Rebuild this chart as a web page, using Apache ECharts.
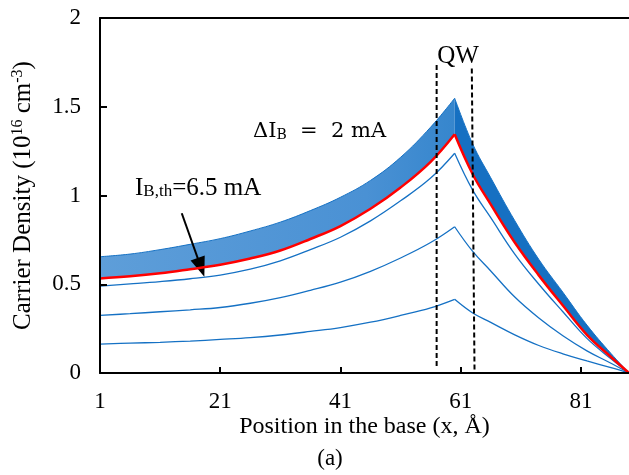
<!DOCTYPE html>
<html>
<head>
<meta charset="utf-8">
<script src="https://cdn.jsdelivr.net/npm/echarts@6/dist/echarts.min.js"></script>
<style>
  html, body { margin: 0; padding: 0; background: #fff; }
  #chart { width: 629px; height: 475px; }
</style>
</head>
<body>
<div id="chart"></div>
<script>
// Position in the base (x, Å)
const xPos = [1, 6, 11, 16, 21, 26, 31, 36, 41, 46, 51, 56, 60, 63, 66, 70, 74, 78, 82, 86, 89];
// Carrier density (1e16 cm^-3) for base currents below threshold (ΔI_B = 2 mA)
const i2mA = [0.163, 0.168, 0.173, 0.180, 0.189, 0.199, 0.214, 0.234, 0.256, 0.286, 0.324, 0.367, 0.415, 0.338, 0.285, 0.215, 0.155, 0.108, 0.068, 0.030, 0];
const i4mA = [0.325, 0.334, 0.345, 0.356, 0.369, 0.393, 0.425, 0.466, 0.512, 0.573, 0.648, 0.735, 0.824, 0.685, 0.575, 0.428, 0.310, 0.210, 0.125, 0.055, 0];
const i6mA = [0.490, 0.502, 0.515, 0.531, 0.552, 0.585, 0.632, 0.695, 0.765, 0.857, 0.970, 1.098, 1.238, 1.030, 0.875, 0.670, 0.500, 0.345, 0.195, 0.080, 0];
// Threshold current I_B,th = 6.5 mA
const iTh = [0.533, 0.545, 0.562, 0.585, 0.610, 0.645, 0.690, 0.755, 0.828, 0.925, 1.045, 1.190, 1.345, 1.120, 0.950, 0.735, 0.550, 0.380, 0.215, 0.090, 0];
// Upper edge of the dense band of above-threshold curves
const iMax = [0.655, 0.670, 0.695, 0.725, 0.757, 0.800, 0.850, 0.915, 0.990, 1.085, 1.215, 1.385, 1.548, 1.290, 1.100, 0.858, 0.640, 0.455, 0.270, 0.110, 0];
// Index of the peak (x = 60) where every curve has a kink
const peakIndex = 12;
// Quantum well boundaries (dashed)
const qwLeft = [[57.0, 0.04], [57.0, 1.735]];
const qwRight = [[63.3, 0.02], [62.85, 1.72]];
// Annotation arrow (from label to threshold curve)
const arrowFrom = [14.6, 0.90];
const arrowTo = [17.8, 0.595];
// Axis ticks
const xMin = 1, xMax = 89, xStep = 20;
const yMin = 0, yMax = 2, yStep = 0.5;

const pairs = arr => xPos.map((x, i) => [x, arr[i]]);
const rise = arr => pairs(arr).slice(0, peakIndex + 1);
const fall = arr => pairs(arr).slice(peakIndex);
// value-first rows so that stacking happens on the density dimension
const swap = rows => rows.map(r => [r[1], r[0]]);
const bandWidth = iMax.map((v, i) => v - iTh[i]);

const blue = '#1571c4';
const serif = 'Liberation Serif';

const chart = echarts.init(document.getElementById('chart'), null, { renderer: 'canvas' });

const riseFill = new echarts.graphic.LinearGradient(0, 0, 1, 0, [
  { offset: 0, color: '#5e9ed9' },
  { offset: 0.75, color: '#4a91d4' },
  { offset: 1, color: '#3686cd' }
]);
const fallFill = '#1670c2';

function curve(name, data, color, width, z, extra) {
  return Object.assign({
    name: name, type: 'line', data: data, showSymbol: false, symbol: 'none',
    smooth: 0.4,
    lineStyle: { color: color, width: width }, z: z
  }, extra || {});
}

const swapEnc = { encode: { x: 1, y: 0 } };
const series = [
  curve('band base rise', swap(rise(iTh)), blue, 0, 1, Object.assign({ stack: 'rise', lineStyle: { width: 0, opacity: 0 } }, swapEnc)),
  curve('band rise', swap(rise(bandWidth)), blue, 1, 1, Object.assign({ stack: 'rise', areaStyle: { color: riseFill, opacity: 1 } }, swapEnc)),
  curve('band base fall', swap(fall(iTh)), blue, 0, 1, Object.assign({ stack: 'fall', lineStyle: { width: 0, opacity: 0 } }, swapEnc)),
  curve('band fall', swap(fall(bandWidth)), blue, 1, 1, Object.assign({ stack: 'fall', areaStyle: { color: fallFill, opacity: 1 } }, swapEnc)),
  curve('2 mA', rise(i2mA), blue, 1.3, 3),
  curve('2 mA', fall(i2mA), blue, 1.3, 3),
  curve('4 mA', rise(i4mA), blue, 1.3, 3),
  curve('4 mA', fall(i4mA), blue, 1.3, 3),
  curve('6 mA', rise(i6mA), blue, 1.3, 3),
  curve('6 mA', fall(i6mA), blue, 1.3, 3),
  curve('I_B,th = 6.5 mA', rise(iTh), '#ff0000', 2.5, 5),
  curve('I_B,th = 6.5 mA', fall(iTh), '#ff0000', 2.5, 5),
  { name: 'QW left', type: 'line', data: qwLeft, showSymbol: false, symbol: 'none',
    lineStyle: { color: '#000', width: 2, type: [5, 3] }, z: 6 },
  { name: 'QW right', type: 'line', data: qwRight, showSymbol: false, symbol: 'none',
    lineStyle: { color: '#000', width: 2, type: [5, 3] }, z: 6 },
  { name: 'arrow', type: 'line', data: [], z: 7,
    markLine: {
      silent: true, animation: false,
      symbol: ['none', 'triangle'], symbolSize: [15, 20],
      label: { show: false },
      lineStyle: { color: '#000', width: 2, type: 'solid' },
      data: [[{ coord: arrowFrom }, { coord: arrowTo }]]
    } }
];

const option = {
  animation: false,
  backgroundColor: '#fff',
  grid: { left: 100, top: 18, width: 530, height: 355, containLabel: false },
  xAxis: [{
    type: 'value', min: xMin, max: xMax, interval: xStep, z: 10,
    name: 'Position in the base (x, Å)',
    nameLocation: 'middle', nameGap: 42, nameMoveOverlap: false,
    nameTextStyle: { fontFamily: serif, fontSize: 24, color: '#000' },
    axisLine: { show: true, lineStyle: { color: '#000', width: 2 } },
    axisTick: { show: true, inside: true, length: 6, lineStyle: { color: '#000', width: 2 } },
    axisLabel: { fontFamily: serif, fontSize: 23, color: '#000', margin: 17, showMaxLabel: false },
    splitLine: { show: false }
  }, {
    type: 'value', min: xMin, max: xMax, position: 'top', z: 10,
    axisLine: { show: true, onZero: false, lineStyle: { color: '#000', width: 2 } },
    axisTick: { show: false }, axisLabel: { show: false }, splitLine: { show: false }
  }],
  yAxis: {
    type: 'value', min: yMin, max: yMax, interval: yStep, z: 10,
    name: 'Carrier Density (10{sup|16} cm{sup|-3})',
    nameLocation: 'middle', nameGap: 64, nameRotate: 90,
    nameTextStyle: {
      fontFamily: serif, fontSize: 25, color: '#000',
      rich: { sup: { fontFamily: serif, fontSize: 16, color: '#000', verticalAlign: 'top', padding: [0, 0, 10, 0] } }
    },
    axisLine: { show: true, lineStyle: { color: '#000', width: 2 } },
    axisTick: { show: true, inside: true, length: 7, lineStyle: { color: '#000', width: 2 } },
    axisLabel: { fontFamily: serif, fontSize: 23, color: '#000', margin: 19 },
    splitLine: { show: false }
  },
  series: series,
  graphic: [
    { type: 'text', x: 458, y: 56, z: 10,
      style: { text: 'QW', font: '25px "Liberation Serif"', fill: '#000', align: 'center', verticalAlign: 'middle' } },
    { type: 'text', x: 253, y: 132, z: 10,
      style: {
        text: '{m|ΔI}{s|B}{m|  =  2 mA}', fill: '#000', align: 'left', verticalAlign: 'middle',
        rich: {
          m: { fontFamily: 'DejaVu Serif', fontSize: 21, fill: '#000' },
          s: { fontFamily: 'DejaVu Serif', fontSize: 14, fill: '#000', verticalAlign: 'bottom', padding: [6, 0, 0, 0] }
        }
      } },
    { type: 'text', x: 135, y: 188, z: 10,
      style: {
        text: '{m|I}{s|B,th}{m|=6.5 mA}', fill: '#000', align: 'left', verticalAlign: 'middle',
        rich: {
          m: { fontFamily: serif, fontSize: 25, fill: '#000' },
          s: { fontFamily: serif, fontSize: 17, fill: '#000', verticalAlign: 'bottom', padding: [8, 0, 0, 0] }
        }
      } },
    { type: 'text', x: 330, y: 459, z: 10,
      style: { text: '(a)', font: '23px "Liberation Serif"', fill: '#000', align: 'center', verticalAlign: 'middle' } }
  ]
};
chart.setOption(option);
</script>
</body>
</html>
